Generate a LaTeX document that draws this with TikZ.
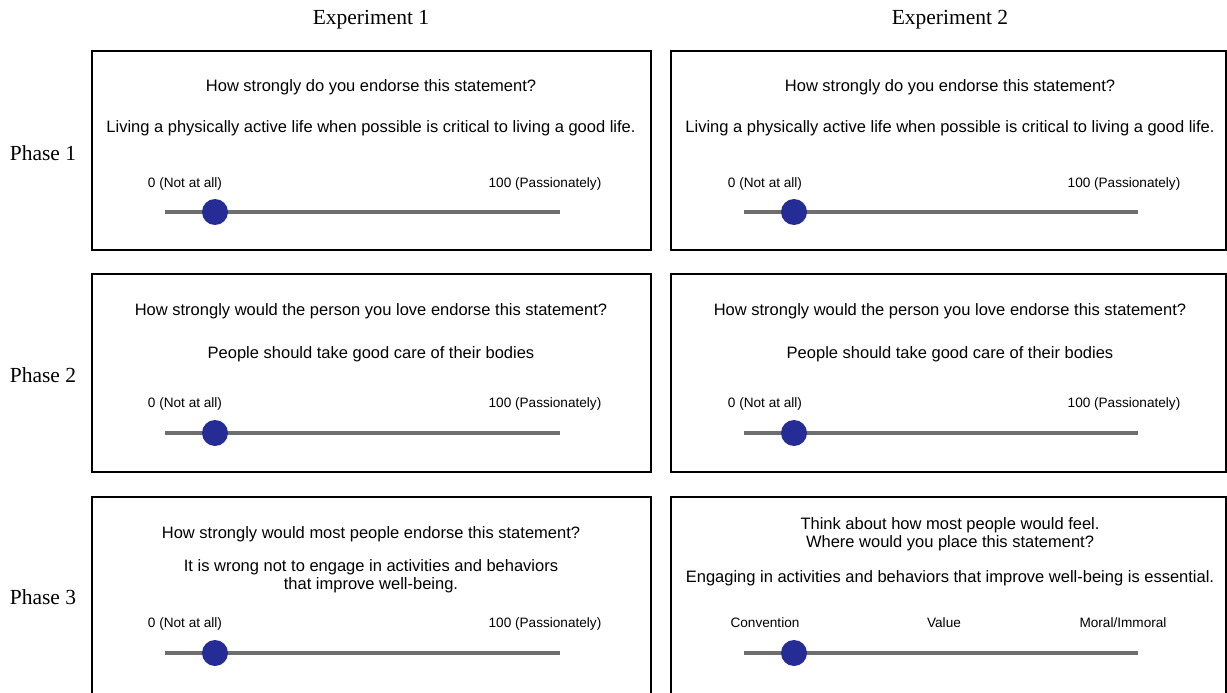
\documentclass[tikz,border=0pt]{standalone}
\usepackage{fontspec}
\setmainfont{Liberation Serif}
\setsansfont{Liberation Sans}
\definecolor{knobblue}{RGB}{38,44,150}
\tikzset{%
  head/.style={font=\fontsize{21.5}{24}\selectfont,inner sep=0,anchor=base},
  qtext/.style={font=\sffamily\fontsize{16.5}{18}\selectfont,inner sep=0,anchor=base},
  stext/.style={font=\sffamily\fontsize{13.6}{16}\selectfont,inner sep=0,anchor=base},
  panel/.style={draw=black,line width=2pt},
  track/.style={draw=black!57,line width=3.2pt},
  knob/.style={shape=circle,fill=knobblue,inner sep=0,minimum size=26pt}
}

\begin{document}
\begin{tikzpicture}[x=1pt,y=-1pt]
  \clip (0,0) rectangle (1227,693);
  % headings
  \node[head] (exp_1) at (371,25) {Experiment 1};
  \node[head] (exp_2) at (950,25) {Experiment 2};
  \node[head] (ph_1) at (43,160) {Phase 1};
  \node[head] (ph_2) at (43,382) {Phase 2};
  \node[head] (ph_3) at (43,604) {Phase 3};
  % panels
  \draw[panel] (92,51) rectangle (651,250);
  \draw[panel] (671,51) rectangle (1226,250);
  \draw[panel] (92,274) rectangle (651,472);
  \draw[panel] (671,274) rectangle (1226,472);
  \draw[panel] (92,497) rectangle (651,720);
  \draw[panel] (671,497) rectangle (1226,720);
  % phase 1
  \node[qtext] (q_1a) at (371,92) {How strongly do you endorse this statement?};
  \node[qtext] (st_1a) at (371,132) {Living a physically active life when possible is critical to living a good life.};
  \node[stext] (lo_1a) at (185,187) {0 (Not at all)};
  \node[stext] (hi_1a) at (545,187) {100 (Passionately)};
  \coordinate (sl_1a) at (165,212);
  \coordinate (sr_1a) at (560,212);
  \draw[track] (sl_1a) -- (sr_1a);
  \node[knob] (k_1a) at (215,212) {};
  \node[qtext] (q_1b) at (950,92) {How strongly do you endorse this statement?};
  \node[qtext] (st_1b) at (950,132) {Living a physically active life when possible is critical to living a good life.};
  \node[stext] (lo_1b) at (765,187) {0 (Not at all)};
  \node[stext] (hi_1b) at (1124,187) {100 (Passionately)};
  \coordinate (sl_1b) at (744,212);
  \coordinate (sr_1b) at (1138,212);
  \draw[track] (sl_1b) -- (sr_1b);
  \node[knob] (k_1b) at (794,212) {};
  % phase 2
  \node[qtext] (q_2a) at (371,315) {How strongly would the person you love endorse this statement?};
  \node[qtext] (st_2a) at (371,358) {People should take good care of their bodies};
  \node[stext] (lo_2a) at (185,407) {0 (Not at all)};
  \node[stext] (hi_2a) at (545,407) {100 (Passionately)};
  \coordinate (sl_2a) at (165,433);
  \coordinate (sr_2a) at (560,433);
  \draw[track] (sl_2a) -- (sr_2a);
  \node[knob] (k_2a) at (215,433) {};
  \node[qtext] (q_2b) at (950,315) {How strongly would the person you love endorse this statement?};
  \node[qtext] (st_2b) at (950,358) {People should take good care of their bodies};
  \node[stext] (lo_2b) at (765,407) {0 (Not at all)};
  \node[stext] (hi_2b) at (1124,407) {100 (Passionately)};
  \coordinate (sl_2b) at (744,433);
  \coordinate (sr_2b) at (1138,433);
  \draw[track] (sl_2b) -- (sr_2b);
  \node[knob] (k_2b) at (794,433) {};
  % phase 3
  \node[qtext] (q_3a) at (371,538) {How strongly would most people endorse this statement?};
  \node[qtext] (st_3a) at (371,571) {It is wrong not to engage in activities and behaviors};
  \node[qtext] (st_3a2) at (371,589) {that improve well-being.};
  \node[stext] (lo_3a) at (185,627) {0 (Not at all)};
  \node[stext] (hi_3a) at (545,627) {100 (Passionately)};
  \coordinate (sl_3a) at (165,653);
  \coordinate (sr_3a) at (560,653);
  \draw[track] (sl_3a) -- (sr_3a);
  \node[knob] (k_3a) at (215,653) {};
  \node[qtext] (q_3b) at (950,529) {Think about how most people would feel.};
  \node[qtext] (q_3b2) at (950,547) {Where would you place this statement?};
  \node[qtext] (st_3b) at (950,582) {Engaging in activities and behaviors that improve well-being is essential.};
  \node[stext] (lo_3b) at (765,627) {Convention};
  \node[stext] (mid_3b) at (944,627) {Value};
  \node[stext] (hi_3b) at (1123,627) {Moral/Immoral};
  \coordinate (sl_3b) at (744,653);
  \coordinate (sr_3b) at (1138,653);
  \draw[track] (sl_3b) -- (sr_3b);
  \node[knob] (k_3b) at (794,653) {};
\end{tikzpicture}
\end{document}
